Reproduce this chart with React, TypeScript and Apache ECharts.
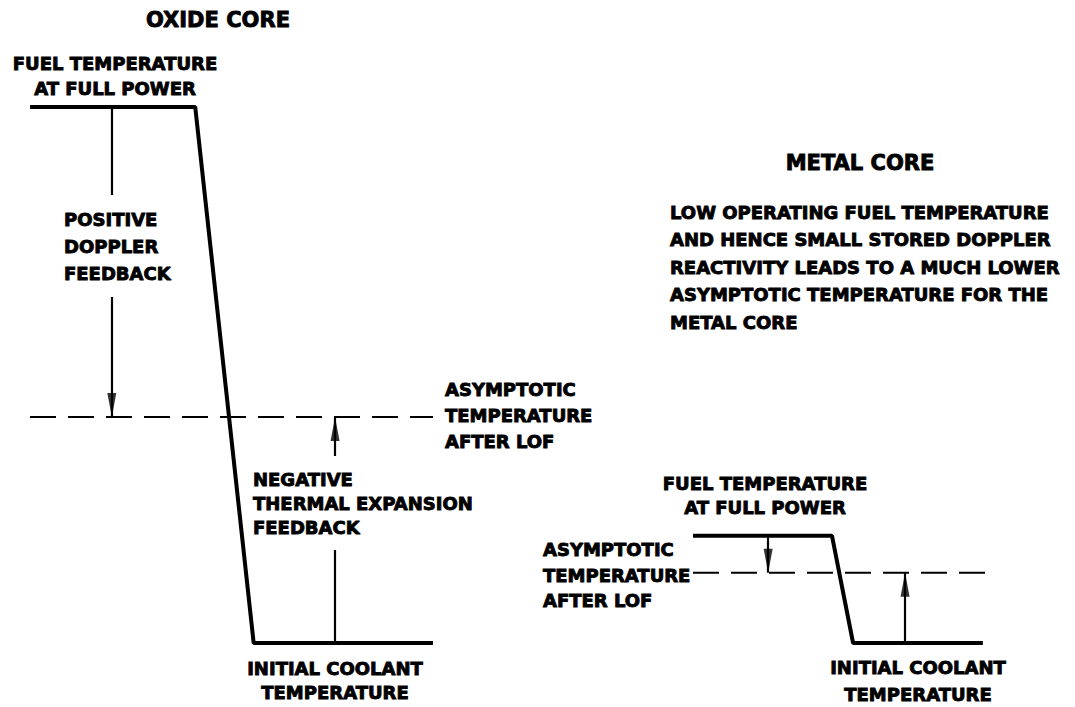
import React, { useEffect, useRef } from "react";
import * as echarts from "echarts";

// Time axis (arbitrary units 0..100 after loss of flow) and temperature levels
const oxideTime = [0, 41, 55.5, 100];
const oxideTemp = [2000, 2000, 400, 400];
const oxideAsymptotic = 1075;
const oxideArrowTimes = [20.3, 75.7]; // positive doppler (down), negative expansion (up)

const metalTime = [0, 46.8, 53.9, 97.6];
const metalTemp = [720, 720, 400, 400];
const metalAsymptotic = 610;
const metalArrowTimes = [25.3, 71.4];

const asymptoteSpan = [0, 100];
const tempRange = [400, 2000];
const timeRange = [0, 100];

const FONT = '"DejaVu Sans", "Liberation Sans", Arial, sans-serif';
const INK = "#000";
const HEAD: [number, number] = [9, 24];

function profileSeries(idx: number, time: number[], temp: number[], asym: number, arrows: number[]) {
  const arrowLine = { color: INK, width: 2.2, type: "solid" };
  const base = { xAxisIndex: idx, yAxisIndex: idx, silent: true };
  return [
    {
      ...base,
      type: "line",
      data: time.map((t, i) => [t, temp[i]]),
      symbol: "none",
      clip: false,
      lineStyle: { color: INK, width: 4 },
      markLine: {
        silent: true,
        animation: false,
        symbol: ["none", "none"],
        label: { show: false },
        lineStyle: arrowLine,
        emphasis: { disabled: true },
        data: [
          [{ coord: [arrows[0], temp[0]] }, { coord: [arrows[0], asym] }],
          [{ coord: [arrows[1], temp[temp.length - 1]] }, { coord: [arrows[1], asym] }],
        ],
      },
    },
    {
      ...base,
      type: "line",
      data: asymptoteSpan.map((t) => [t, asym]),
      symbol: "none",
      clip: false,
      lineStyle: { color: INK, width: 2, type: [26, 12] },
    },
    {
      ...base,
      type: "scatter",
      data: [[arrows[0], asym]],
      symbol: "triangle",
      symbolSize: HEAD,
      symbolRotate: 180,
      symbolOffset: [0, -HEAD[1] / 2],
      clip: false,
      itemStyle: { color: INK },
    },
    {
      ...base,
      type: "scatter",
      data: [[arrows[1], asym]],
      symbol: "triangle",
      symbolSize: HEAD,
      symbolRotate: 0,
      symbolOffset: [0, HEAD[1] / 2],
      clip: false,
      itemStyle: { color: INK },
    },
  ];
}

function txt(text: string, x: number, y: number, opts: any = {}) {
  const { size = 18, align = "left", lineHeight = 26, bg, padding } = opts;
  const style: any = {
    text,
    font: `bold ${size}px ${FONT}`,
    fill: INK,
    stroke: INK,
    lineWidth: 0.9,
    align,
    verticalAlign: "middle",
    lineHeight,
  };
  if (bg) {
    style.backgroundColor = bg;
    style.padding = padding;
  }
  return { type: "text", x, y, z: 100, silent: true, style };
}

export default function App() {
  const ref = useRef<HTMLDivElement>(null);
  useEffect(() => {
    if (!ref.current) return;
    const chart = echarts.init(ref.current, null, { renderer: "svg" });
    const grids = [
      { left: 30, right: 642, top: 107, bottom: 64 },
      { left: 693, right: 85, top: 107, bottom: 64 },
    ];
    const xAxis = grids.map((_, i) => ({
      type: "value",
      gridIndex: i,
      min: timeRange[0],
      max: timeRange[1],
      show: false,
      splitLine: { show: false },
    }));
    const yAxis = grids.map((_, i) => ({
      type: "value",
      gridIndex: i,
      min: tempRange[0],
      max: tempRange[1],
      show: false,
      splitLine: { show: false },
    }));
    chart.setOption({
      animation: false,
      backgroundColor: "#fff",
      grid: grids,
      xAxis,
      yAxis,
      series: [
        ...profileSeries(0, oxideTime, oxideTemp, oxideAsymptotic, oxideArrowTimes),
        ...profileSeries(1, metalTime, metalTemp, metalAsymptotic, metalArrowTimes),
      ],
      graphic: [
        txt("OXIDE CORE", 218, 20, { size: 21, align: "center" }),
        txt("FUEL TEMPERATURE\nAT FULL POWER", 115, 75.5, { align: "center", lineHeight: 25 }),
        txt("POSITIVE\nDOPPLER\nFEEDBACK", 60, 246, {
          lineHeight: 27,
          bg: "#fff",
          padding: [12, 4, 9, 4],
        }),
        txt("ASYMPTOTIC\nTEMPERATURE\nAFTER LOF", 445, 415, { lineHeight: 26 }),
        txt("NEGATIVE\nTHERMAL EXPANSION\nFEEDBACK", 252, 503, {
          lineHeight: 24,
          bg: "#fff",
          padding: [12, 2, 10, 1],
        }),
        txt("INITIAL COOLANT\nTEMPERATURE", 335, 680, { align: "center", lineHeight: 24 }),
        txt("METAL CORE", 860, 163, { size: 21, align: "center" }),
        txt(
          "LOW OPERATING FUEL TEMPERATURE\nAND HENCE SMALL STORED DOPPLER\nREACTIVITY LEADS TO A MUCH LOWER\nASYMPTOTIC TEMPERATURE FOR THE\nMETAL CORE",
          670,
          267,
          { lineHeight: 27.5 }
        ),
        txt("FUEL TEMPERATURE\nAT FULL POWER", 765, 495, { align: "center", lineHeight: 24 }),
        txt("ASYMPTOTIC\nTEMPERATURE\nAFTER LOF", 543, 575, { lineHeight: 25.5 }),
        txt("INITIAL COOLANT\nTEMPERATURE", 918, 681, { align: "center", lineHeight: 27 }),
      ],
    });
    return () => chart.dispose();
  }, []);
  return (
    <div
      ref={ref}
      style={{ position: "fixed", left: 0, top: 0, width: 1075, height: 707, background: "#fff" }}
    />
  );
}
